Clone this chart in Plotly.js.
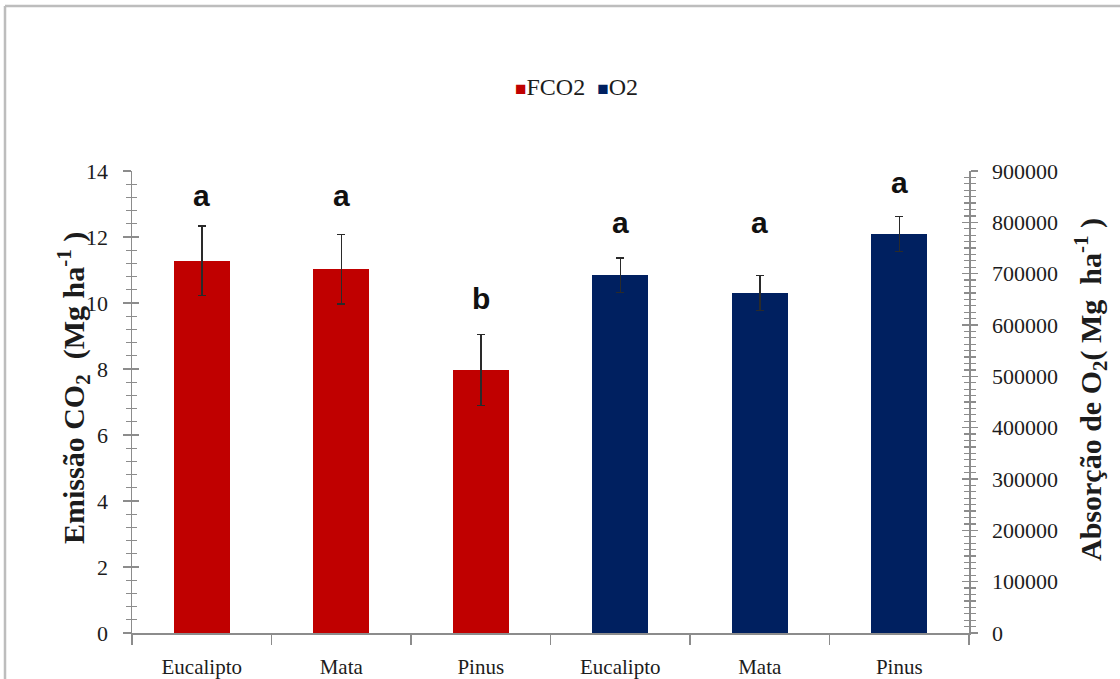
<!DOCTYPE html>
<html>
<head>
<meta charset="utf-8">
<script src="https://cdn.plot.ly/plotly-3.0.1.min.js"></script>
<style>
  html, body { margin: 0; padding: 0; background: #ffffff; }
  #chart { width: 1120px; height: 679px; }
</style>
</head>
<body>
<div id="chart"></div>
<script>
// Forest types (x-axis labels, one group per series)
const categories = ["Eucalipto", "Mata", "Pinus", "Eucalipto", "Mata", "Pinus"];

// CO2 emission (Mg ha-1), left axis
const fco2Labels = ["Eucalipto", "Mata", "Pinus"];
const fco2Values = [11.28, 11.02, 7.97];
const fco2Errors = [1.06, 1.05, 1.07];
const fco2Letters = ["a", "a", "b"];

// O2 absorption (Mg ha-1), right axis
const o2Labels = ["Eucalipto", "Mata", "Pinus"];
const o2Values = [697000, 662000, 777000];
const o2Errors = [34000, 34000, 34000];
const o2Letters = ["a", "a", "a"];

const RED = "#C00000";
const NAVY = "#002060";
const AXIS = "#8c8c8c";
const TEXT = "#1c1c1c";
const SERIF = "Liberation Serif";
const SANS = "Liberation Sans";

const idx = categories.map((c, i) => i);
const fco2X = idx.slice(0, fco2Labels.length);
const o2X = idx.slice(fco2Labels.length);

const errStyle = { type: "data", visible: true, color: "#2a2a2a", thickness: 1.5, width: 4 };

const traces = [
  {
    type: "bar", name: "FCO2", x: fco2X, y: fco2Values, width: 0.4,
    marker: { color: RED }, yaxis: "y",
    error_y: Object.assign({ array: fco2Errors }, errStyle),
    hoverinfo: "y"
  },
  {
    type: "bar", name: "O2", x: o2X, y: o2Values, width: 0.4,
    marker: { color: NAVY }, yaxis: "y2",
    error_y: Object.assign({ array: o2Errors }, errStyle),
    hoverinfo: "y"
  }
];

// plot area in pixels
const L = 132, R = 969, T = 171, B = 633, W = 1120, H = 679;
const px = x => (x - L) / (R - L);
const py = y => (B - y) / (B - T);

// significance letters above each bar
const letterY1 = [13.27, 13.27, 10.15];
const letterY2 = [800000, 800000, 877000];
const annotations = [];
fco2Letters.forEach((t, i) => annotations.push({
  text: t, x: fco2X[i], y: letterY1[i], xref: "x", yref: "y",
  showarrow: false, yanchor: "middle",
  font: { family: SANS, size: 30, color: "#111", weight: "bold" }
}));
o2Letters.forEach((t, i) => annotations.push({
  text: t, x: o2X[i], y: letterY2[i], xref: "x", yref: "y2",
  showarrow: false, yanchor: "middle",
  font: { family: SANS, size: 30, color: "#111", weight: "bold" }
}));

// axis titles
annotations.push({
  text: "Emissão CO<sub>2</sub>  (Mg ha<sup>-1</sup> )",
  xref: "paper", yref: "paper", x: px(73), y: py(388),
  textangle: -90, showarrow: false, xanchor: "center", yanchor: "middle",
  font: { family: SERIF, size: 30, color: TEXT, weight: "bold" }
});
annotations.push({
  text: "Absorção de O<sub>2</sub>( Mg  ha<sup>-1</sup> )",
  xref: "paper", yref: "paper", x: px(1090), y: py(390),
  textangle: -90, showarrow: false, xanchor: "center", yanchor: "middle",
  font: { family: SERIF, size: 30, color: TEXT, weight: "bold" }
});

// legend row
annotations.push({
  text: '<span style="color:' + RED + ';font-size:19px">■</span>FCO2  ' +
        '<span style="color:' + NAVY + ';font-size:19px">■</span>O2',
  xref: "paper", yref: "paper", x: px(576), y: py(87),
  showarrow: false, xanchor: "center", yanchor: "middle",
  font: { family: SERIF, size: 24, color: TEXT }
});

const tickFont = { family: SERIF, size: 22, color: TEXT };

const layout = {
  width: W, height: H,
  margin: { l: L, r: W - R, t: T, b: H - B, pad: 0 },
  paper_bgcolor: "#ffffff", plot_bgcolor: "#ffffff",
  showlegend: false,
  bargap: 0,
  font: { family: SERIF, color: TEXT },
  xaxis: {
    range: [-0.5, categories.length - 0.5],
    tickvals: idx, ticktext: categories,
    ticks: "", showgrid: false, zeroline: false,
    showline: true, linecolor: AXIS, linewidth: 1.5,
    tickfont: { family: SERIF, size: 21, color: TEXT }, ticklabelstandoff: 14,
    minor: { tick0: 0.5, dtick: 1, ticks: "outside", ticklen: 10, tickcolor: AXIS, tickwidth: 1.5, showgrid: false },
    fixedrange: true
  },
  yaxis: {
    range: [0, 14], dtick: 2, tick0: 0,
    ticks: "outside", ticklen: 8, tickcolor: AXIS, tickwidth: 1.5,
    minor: { dtick: 0.4, ticks: "outside", ticklen: 5, tickcolor: AXIS, tickwidth: 1.2, showgrid: false },
    showgrid: false, zeroline: false,
    showline: true, linecolor: AXIS, linewidth: 1.5,
    tickfont: tickFont, ticklabelstandoff: 10,
    fixedrange: true
  },
  yaxis3: {
    overlaying: "y", side: "left", range: [0, 14], dtick: 2, tick0: 0,
    ticks: "inside", ticklen: 7, tickcolor: AXIS, tickwidth: 1.5,
    minor: { dtick: 0.4, ticks: "inside", ticklen: 5, tickcolor: AXIS, tickwidth: 1.2, showgrid: false },
    showticklabels: false, showgrid: false, zeroline: false, showline: false,
    fixedrange: true
  },
  yaxis2: {
    overlaying: "y", side: "right", range: [0, 900000], dtick: 100000, tick0: 0,
    ticks: "outside", ticklen: 7, tickcolor: AXIS, tickwidth: 1.5,
    minor: { dtick: 12500, ticks: "outside", ticklen: 5, tickcolor: AXIS, tickwidth: 1.2, showgrid: false },
    showgrid: false, zeroline: false,
    showline: true, linecolor: AXIS, linewidth: 1.5,
    tickformat: "d", separatethousands: false,
    tickfont: tickFont, ticklabelstandoff: 10,
    fixedrange: true
  },
  yaxis4: {
    overlaying: "y", side: "right", range: [0, 900000], dtick: 100000, tick0: 0,
    ticks: "inside", ticklen: 7, tickcolor: AXIS, tickwidth: 1.5,
    minor: { dtick: 12500, ticks: "inside", ticklen: 5, tickcolor: AXIS, tickwidth: 1.2, showgrid: false },
    showticklabels: false, showgrid: false, zeroline: false, showline: false,
    fixedrange: true
  },
  annotations: annotations,
  shapes: [
    // chart-area frame (top and left edges)
    { type: "line", xref: "paper", yref: "paper", x0: px(5), x1: px(1125), y0: py(6), y1: py(6),
      line: { color: "#bdbdbd", width: 2.5 } },
    { type: "line", xref: "paper", yref: "paper", x0: px(5), x1: px(5), y0: py(6), y1: py(690),
      line: { color: "#bdbdbd", width: 2.5 } }
  ]
};

// invisible traces so the inner-tick axes are drawn
traces.push({ type: "scatter", x: [0], y: [0], yaxis: "y3", mode: "markers", marker: { opacity: 0 }, hoverinfo: "skip" });
traces.push({ type: "scatter", x: [0], y: [0], yaxis: "y4", mode: "markers", marker: { opacity: 0 }, hoverinfo: "skip" });

Plotly.newPlot("chart", traces, layout, { displayModeBar: false, staticPlot: true });
</script>
</body>
</html>
